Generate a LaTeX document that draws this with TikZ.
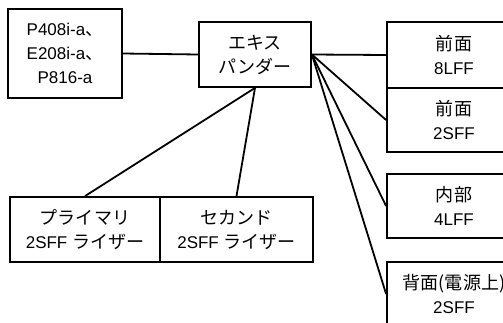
\documentclass[tikz,border=0pt]{standalone}
\usepackage{fontspec}
\setmainfont{Liberation Sans}
\newfontfamily\ja[Scale=1.06]{Noto Sans CJK JP}
\usepackage{tikz}
\usetikzlibrary{positioning}

\begin{document}
\begin{tikzpicture}[x=1pt,y=-1pt,
   box/.style={draw,line width=1.8pt,align=center,inner sep=0pt,
               font=\fontsize{17}{24}\selectfont},
   bay/.style={box,minimum width=134pt,minimum height=64pt},
   riser/.style={box,minimum height=65pt},
   ln/.style={line width=1.8pt}]
\useasboundingbox (0,0) rectangle (503,322);

% host and expander
\node[box,minimum width=114pt,minimum height=89pt] (host) at (65,53.5)
   {P408i-a{\ja 、}\\E208i-a{\ja 、}\\P816-a};
\node[box,minimum width=112pt,minimum height=65pt] (exp) at (255,54.5)
   {\ja エキス\\\ja パンダー};
\draw[ln] (host.east) -- (exp.west);

% drive bays
\node[bay,minimum height=66pt] (f8) at (454,55) {{\ja 前面}\\8LFF};
\node[bay] (f2) at (454,120) {{\ja 前面}\\2SFF};
\node[bay] (in4) at (454,206) {{\ja 内部}\\4LFF};
\node[bay] (rear) at (454,294) {{\ja 背面(電源上)}\\2SFF};
\foreach \b in {f8,f2,in4,rear}
   \draw[ln] (exp.east) -- (\b.west);

% risers
\node[riser,minimum width=150pt] (pri) at (85,229.5) {{\ja プライマリ}\\2SFF {\ja ライザー}};
\node[riser,minimum width=153pt] (sec) at (236.5,229.5) {{\ja セカンド}\\2SFF {\ja ライザー}};
\draw[ln] (exp.south) -- (pri.north);
\draw[ln] (exp.south) -- (sec.north);
\end{tikzpicture}
\end{document}
